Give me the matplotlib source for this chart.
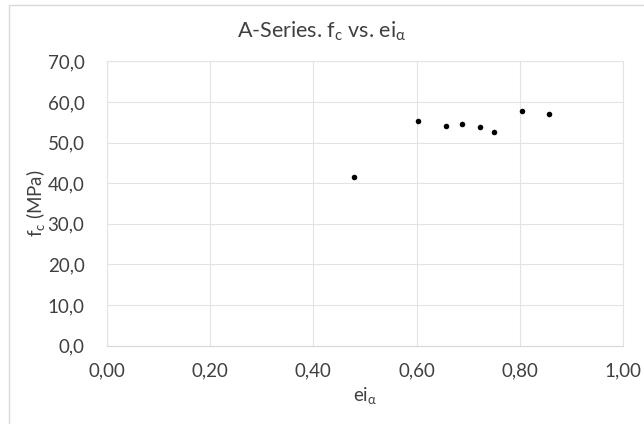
import matplotlib
matplotlib.use("Agg")
import matplotlib.pyplot as plt
from matplotlib.patches import Rectangle

ei_alpha = [0.478, 0.602, 0.656, 0.687, 0.722, 0.750, 0.803, 0.857]
fc = [41.5, 55.4, 54.1, 54.5, 53.9, 52.7, 57.7, 56.9]

x_ticks = [0.0, 0.2, 0.4, 0.6, 0.8, 1.0]
y_ticks = [0, 10, 20, 30, 40, 50, 60, 70]

plt.rcParams['font.family'] = ['Lato', 'DejaVu Sans']
plt.rcParams['mathtext.fontset'] = 'custom'
plt.rcParams['mathtext.rm'] = 'Lato'
plt.rcParams['mathtext.it'] = 'Lato'
plt.rcParams['mathtext.fallback'] = 'stixsans'

txt = '#404040'
grid = '#e3e3e3'

fig = plt.figure(figsize=(6.44, 4.24), dpi=100)
fig.patches.append(Rectangle((9 / 644, -0.01), 1.0, 1 - 5 / 424 + 0.01,
                             transform=fig.transFigure, fill=False,
                             edgecolor='#d9d9d9', linewidth=1))
ax = fig.add_axes([0.1657, 0.1847, 0.8022, 0.6708])

ax.scatter(ei_alpha, fc, s=16, color='black', zorder=3, linewidths=0)

ax.set_xlim(0, 1)
ax.set_ylim(0, 70)
ax.set_xticks(x_ticks)
ax.set_yticks(y_ticks)
ax.set_xticklabels([f"{v:.2f}".replace('.', ',') for v in x_ticks])
ax.set_yticklabels([f"{v:.1f}".replace('.', ',') for v in y_ticks])
ax.tick_params(axis='both', length=0, labelsize=13.5, colors=txt)
ax.tick_params(axis='y', pad=16)
ax.tick_params(axis='x', pad=12)
ax.grid(True, color=grid, linewidth=0.8)
ax.set_axisbelow(True)
for s in ax.spines.values():
    s.set_color(grid)
    s.set_linewidth(0.8)
ax.spines['bottom'].set_color('#d9d9d9')

fig.text(0.5, 0.925, r'A-Series. f$_\mathrm{c}$ vs. ei$_\mathrm{\alpha}$',
         ha='center', va='center', fontsize=15.5, color=txt)
ax.set_xlabel(r'ei$_\mathrm{\alpha}$', fontsize=13.5, color=txt, labelpad=4)
ax.set_ylabel(r'f$_\mathrm{c}$ (MPa)', fontsize=13.5, color=txt, labelpad=0)

fig.savefig('out.png', dpi=100)
